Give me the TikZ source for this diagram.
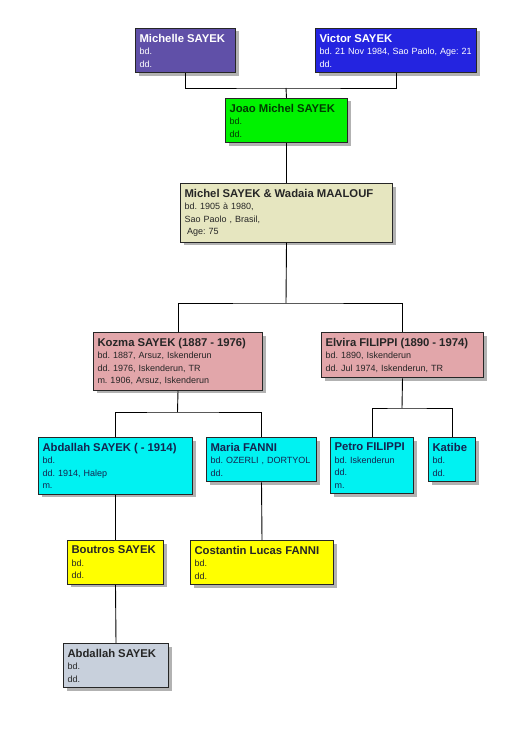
\documentclass[tikz,border=0pt]{standalone}
\usepackage{fontspec}
\setmainfont{Liberation Sans}
\usepackage{tikz}
\usetikzlibrary{shadows}
\definecolor{mpurple}{RGB}{96,80,168}
\definecolor{vblue}{RGB}{36,36,224}
\definecolor{jgreen}{RGB}{0,242,0}
\definecolor{jtext}{RGB}{0,60,0}
\definecolor{khaki}{RGB}{230,230,192}
\definecolor{rose}{RGB}{226,166,170}
\definecolor{cyanbox}{RGB}{0,242,242}
\definecolor{navytext}{RGB}{20,36,80}
\definecolor{ybox}{RGB}{255,255,0}
\definecolor{greybox}{RGB}{200,208,220}
\newcommand{\pname}[1]{{\fontsize{11.3}{12.5}\selectfont\bfseries #1}}
\tikzset{
  person/.style={draw=black!85,line width=1pt,anchor=north west,align=left,inner xsep=4pt,inner ysep=5.5pt,
    font=\fontsize{9}{12.5}\selectfont\frenchspacing,text=black!85,
    drop shadow={shadow xshift=3pt,shadow yshift=-3pt,fill=black!30,opacity=1}},
  purplep/.style={person,fill=mpurple,text=white},
  bluep/.style={person,fill=vblue,text=white},
  greenp/.style={person,fill=jgreen,text=jtext},
  khakip/.style={person,fill=khaki},
  rosep/.style={person,fill=rose},
  cyanp/.style={person,fill=cyanbox,text=navytext},
  yellowp/.style={person,fill=ybox},
  greyp/.style={person,fill=greybox},
  link/.style={draw=black,line width=0.9pt}
}
\begin{document}
\begin{tikzpicture}[x=1pt,y=-1pt]
  \useasboundingbox[fill=white] (0,0) rectangle (512,733);
  \node[purplep,text width=92pt] (mich) at (135,28) {\pname{Michelle SAYEK}\\ bd.\\ dd.};
  \node[bluep,text width=153pt] (vic) at (315,28) {\pname{Victor SAYEK}\\ \mbox{bd. 21 Nov 1984, Sao Paolo, Age: 21}\\ dd.};
  \node[greenp,text width=114pt] (joao) at (225,98) {\pname{Joao Michel SAYEK}\\ bd.\\ dd.};
  \node[khakip,text width=204pt] (cpl) at (180,183) {\pname{Michel SAYEK \& Wadaia MAALOUF}\\ bd. 1905 à 1980,\\ Sao Paolo , Brasil,\\ \hspace*{2.5pt}Age: 75};
  \node[rosep,text width=161pt] (kozma) at (93,332) {\pname{Kozma SAYEK (1887 - 1976)}\\ bd. 1887, Arsuz, Iskenderun\\ dd. 1976, Iskenderun, TR\\ m. 1906, Arsuz, Iskenderun};
  \node[rosep,text width=154pt] (elvira) at (321,332) {\pname{Elvira FILIPPI (1890 - 1974)}\\ bd. 1890, Iskenderun\\ dd. Jul 1974, Iskenderun, TR};
  \node[cyanp,text width=146pt] (abd) at (38,437) {\pname{Abdallah SAYEK ( - 1914)}\\ bd.\\ dd. 1914, Halep\\ m.};
  \node[cyanp,text width=102pt] (maria) at (206,437) {\pname{Maria FANNI}\\ \mbox{bd. OZERLI , DORTYOL}\\ dd.};
  \node[cyanp,text width=75pt] (petro) at (330,437) {\pname{Petro FILIPPI}\\ bd. Iskenderun\\ dd.\\ m.};
  \node[cyanp,text width=39pt] (katibe) at (428,437) {\pname{Katibe}\\ bd.\\ dd.};
  \node[yellowp,text width=88pt] (bout) at (67,540) {\pname{Boutros SAYEK}\\ bd.\\ dd.};
  \node[yellowp,text width=135pt] (cost) at (190,540) {\pname{Costantin Lucas FANNI}\\ bd.\\ dd.};
  \node[greyp,text width=97pt] (abd2) at (63,643) {\pname{Abdallah SAYEK}\\ bd.\\ dd.};
  \coordinate (u1) at (286,88);
  \coordinate (u2) at (286,303);
  \coordinate (u3) at (177.5,412);
  \coordinate (u4) at (402,408);
  \draw[link] (mich.south) |- (u1) -| (vic.south);
  \draw[link] (u1) -- (joao.north);
  \draw[link] (joao.south) -- (cpl.north);
  \draw[link] (cpl.south) -- (u2);
  \draw[link] (kozma.north) |- (u2) -| (elvira.north);
  \draw[link] (kozma.south) -- (u3);
  \draw[link] (abd.north) |- (u3) -| (maria.north);
  \draw[link] (elvira.south) -- (u4);
  \draw[link] (petro.north) |- (u4) -| (katibe.north);
  \draw[link] (abd.south) -- (bout.north);
  \draw[link] (maria.south) -- (cost.north);
  \draw[link] (bout.south) -- (abd2.north);
\end{tikzpicture}
\end{document}
